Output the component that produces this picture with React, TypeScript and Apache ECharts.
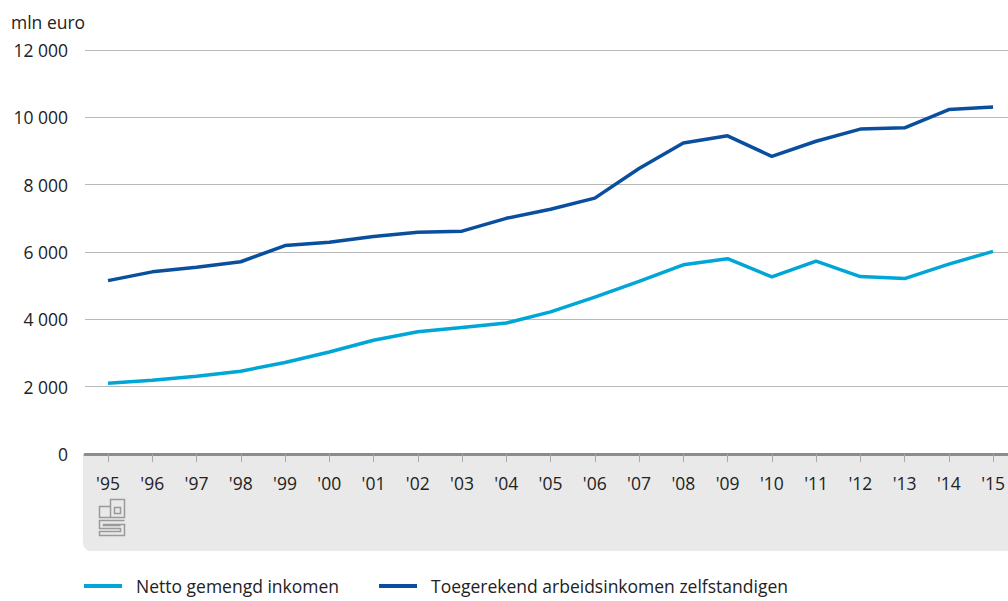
import React, { useEffect, useRef } from "react";
import * as echarts from "echarts";

const years = ["'95", "'96", "'97", "'98", "'99", "'00", "'01", "'02", "'03", "'04", "'05", "'06", "'07", "'08", "'09", "'10", "'11", "'12", "'13", "'14", "'15"];
const nettoGemengd = [2100, 2190, 2310, 2460, 2720, 3030, 3380, 3630, 3760, 3890, 4220, 4660, 5130, 5620, 5800, 5260, 5730, 5270, 5210, 5640, 6020];
const toegerekend = [5150, 5410, 5550, 5710, 6190, 6290, 6460, 6590, 6620, 7000, 7270, 7600, 8480, 9240, 9450, 8840, 9290, 9650, 9690, 10230, 10310];
const seriesNames = ["Netto gemengd inkomen", "Toegerekend arbeidsinkomen zelfstandigen"];
const yTicks = { min: 0, max: 12000, interval: 2000 };

const LOGO_D =
  "M12 8 L1 8 L1 19 L12 19 M12 19 L12 1 L26 1 L26 19 L12 19 M16 9 L22 9 L22 15 L16 15 Z " +
  "M26 22 L1 22 L1 30 L22 30 L22 33 L1 33 L1 37 L26 37 L26 26 L5 26 L5 27 L22 27";

echarts.graphic.registerShape("cbslogo", (echarts.graphic as any).extendPath(LOGO_D, {}));

export default function App() {
  const ref = useRef<HTMLDivElement>(null);
  useEffect(() => {
    if (!ref.current) return;
    const chart = echarts.init(ref.current, null, { renderer: "svg" });
    const font = "'Open Sans', sans-serif";
    chart.setOption({
      animation: false,
      backgroundColor: "#ffffff",
      title: {
        text: "mln euro",
        left: 6,
        top: 8,
        textStyle: { fontSize: 17.5, fontWeight: "normal", color: "#222", fontFamily: font },
      },
      legend: {
        left: 79,
        bottom: 1,
        icon: "rect",
        itemWidth: 38,
        itemHeight: 4,
        itemGap: 40,
        textStyle: { fontSize: 17.5, color: "#222", fontFamily: font, padding: [0, 0, 0, 9] },
        data: seriesNames,
      },
      grid: [
        { left: 85, right: 0, top: 50, bottom: 147 },
        { left: 108, right: 11, top: 50, bottom: 147 },
      ],
      xAxis: [
        {
          gridIndex: 0,
          type: "category",
          data: years,
          boundaryGap: false,
          axisLine: { show: true, lineStyle: { color: "#8c8c8c", width: 3 } },
          axisTick: { show: false },
          axisLabel: { show: false },
          splitLine: { show: false },
        },
        {
          gridIndex: 1,
          type: "category",
          data: years,
          boundaryGap: false,
          axisLine: { show: false },
          axisTick: { show: true, length: 8, lineStyle: { color: "#a8a8a8", width: 1 } },
          axisLabel: { fontSize: 17.5, color: "#222", fontFamily: font, margin: 20 },
          splitLine: { show: false },
        },
      ],
      yAxis: [
        {
          gridIndex: 0,
          type: "value",
          ...yTicks,
          axisLine: { show: false },
          axisTick: { show: false },
          axisLabel: {
            fontSize: 17.5,
            color: "#222",
            fontFamily: font,
            margin: 17,
            formatter: (v: number) => String(v).replace(/\B(?=(\d{3})+(?!\d))/g, " "),
          },
          splitLine: { show: true, lineStyle: { color: "#b8b8b8", width: 1 } },
        },
        {
          gridIndex: 1,
          type: "value",
          ...yTicks,
          axisLine: { show: false },
          axisTick: { show: false },
          axisLabel: { show: false },
          splitLine: { show: false },
        },
      ],
      graphic: [
        {
          type: "rect",
          z: -10,
          shape: { x: 83, y: 455, width: 925, height: 96, r: [0, 0, 0, 8] },
          style: { fill: "#e9e9e9" },
        },
        {
          type: "cbslogo",
          x: 98.5,
          y: 498.5,
          scaleX: 1,
          scaleY: 1,
          style: { fill: null, stroke: "#9a9a9a", lineWidth: 1.5 },
        },
      ],
      series: [
        {
          name: seriesNames[0],
          type: "line",
          xAxisIndex: 1,
          yAxisIndex: 1,
          data: nettoGemengd,
          symbol: "none",
          lineStyle: { color: "#00a6d6", width: 3.5 },
          itemStyle: { color: "#00a6d6" },
        },
        {
          name: seriesNames[1],
          type: "line",
          xAxisIndex: 1,
          yAxisIndex: 1,
          data: toegerekend,
          symbol: "none",
          lineStyle: { color: "#0a4f9e", width: 3.5 },
          itemStyle: { color: "#0a4f9e" },
        },
      ],
    });
    return () => chart.dispose();
  }, []);
  return <div ref={ref} style={{ width: 1008, height: 601, position: "absolute", left: 0, top: 0 }} />;
}
